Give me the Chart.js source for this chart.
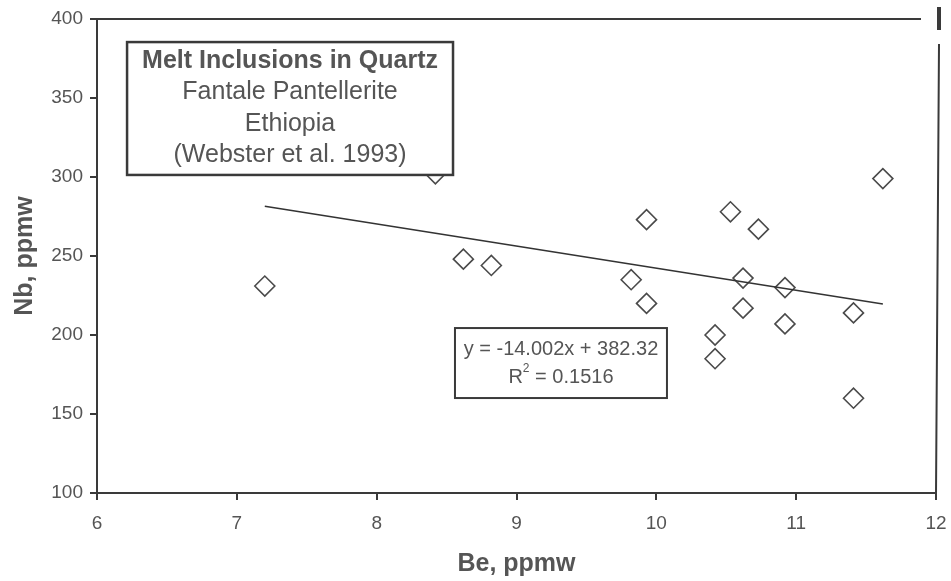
<!DOCTYPE html>
<html>
<head>
<meta charset="utf-8">
<script src="https://cdn.jsdelivr.net/npm/chart.js@4.4.0/dist/chart.umd.min.js"></script>
<style>
  html, body { margin: 0; padding: 0; background: #fff; }
  #wrap { width: 951px; height: 581px; }
</style>
</head>
<body>
<div id="wrap"><canvas id="myChart" width="951" height="581"></canvas></div>
<script>
// Datos (Be vs Nb, ppmw)
var beValues = [7.2, 8.42, 8.62, 8.82, 9.82, 9.93, 9.93, 10.42, 10.42, 10.53, 10.62, 10.62, 10.73, 10.92, 10.92, 11.41, 11.41, 11.62];
var nbValues = [231, 302, 248, 244, 235, 273, 220, 200, 185, 278, 236, 217, 267, 230, 207, 214, 160, 299];

// Línea de tendencia (extremos)
var trendX = [7.2, 11.62];
var trendY = [281.5, 219.6];

var xTicks = [6, 7, 8, 9, 10, 11, 12];
var yTicks = [100, 150, 200, 250, 300, 350, 400];

var titleLines = ['Melt Inclusions in Quartz', 'Fantale Pantellerite', 'Ethiopia', '(Webster et al. 1993)'];
var eqLines = ['y = -14.002x + 382.32', 'R2 = 0.1516'];

var FONT = "'Liberation Sans', Arial, sans-serif";
var TEXT = '#555';
var AXIS = '#3a3a3a';

var points = beValues.map(function(x, i) { return { x: x, y: nbValues[i] }; });
var trend = trendX.map(function(x, i) { return { x: x, y: trendY[i] }; });

// Recuadros de texto y marco del área de trazado
var boxesPlugin = {
  id: 'boxes',
  afterDraw: function(chart) {
    var ctx = chart.ctx;
    var xs = chart.scales.x, ys = chart.scales.y;
    var area = chart.chartArea;
    ctx.save();

    // marco superior y derecho
    ctx.strokeStyle = AXIS;
    ctx.lineWidth = 2;
    ctx.beginPath();
    ctx.moveTo(area.left, area.top);
    ctx.lineTo(area.right - 15, area.top);
    ctx.moveTo(area.right + 3, area.top + 25);
    ctx.lineTo(area.right, area.bottom);
    ctx.stroke();
    ctx.lineWidth = 4;
    ctx.beginPath();
    ctx.moveTo(area.right + 3, area.top - 12);
    ctx.lineTo(area.right + 3, area.top + 11);
    ctx.stroke();

    // recuadro del título
    var l = xs.getPixelForValue(6.215), r = xs.getPixelForValue(8.546);
    var t = ys.getPixelForValue(385.4), b = ys.getPixelForValue(301.3);
    ctx.fillStyle = '#fff';
    ctx.fillRect(l, t, r - l, b - t);
    ctx.lineWidth = 2.5;
    ctx.strokeRect(l, t, r - l, b - t);
    ctx.fillStyle = TEXT;
    ctx.textAlign = 'center';
    ctx.textBaseline = 'middle';
    var cx = (l + r) / 2;
    titleLines.forEach(function(line, i) {
      ctx.font = (i === 0 ? 'bold ' : '') + '25px ' + FONT;
      ctx.fillText(line, cx, t + 19 + i * 31.3);
    });

    // recuadro de la ecuación
    l = xs.getPixelForValue(8.56); r = xs.getPixelForValue(10.076);
    t = ys.getPixelForValue(204.4); b = ys.getPixelForValue(160.1);
    ctx.fillStyle = '#fff';
    ctx.fillRect(l, t, r - l, b - t);
    ctx.lineWidth = 2;
    ctx.strokeStyle = AXIS;
    ctx.strokeRect(l, t, r - l, b - t);
    ctx.fillStyle = TEXT;
    cx = (l + r) / 2;
    ctx.font = '20px ' + FONT;
    ctx.fillText(eqLines[0], cx, t + 21);
    // R² con superíndice
    var y2 = t + 49;
    var main1 = 'R', main2 = ' = 0.1516';
    ctx.font = '20px ' + FONT;
    var w1 = ctx.measureText(main1).width, w2 = ctx.measureText(main2).width;
    ctx.font = '12px ' + FONT;
    var ws = ctx.measureText('2').width;
    var x0 = cx - (w1 + ws + w2) / 2;
    ctx.textAlign = 'left';
    ctx.font = '20px ' + FONT;
    ctx.fillText(main1, x0, y2);
    ctx.font = '12px ' + FONT;
    ctx.fillText('2', x0 + w1, y2 - 8);
    ctx.font = '20px ' + FONT;
    ctx.fillText(main2, x0 + w1 + ws, y2);

    ctx.restore();
  }
};

var ctx2 = document.getElementById('myChart').getContext('2d');

var chart = new Chart(ctx2, {
  type: 'scatter',
  data: {
    datasets: [{
      label: 'Nb',
      data: points,
      pointStyle: 'rectRot',
      pointRadius: 10,
      pointBorderWidth: 1.6,
      pointBorderColor: '#4a4a4a',
      pointBackgroundColor: '#fff',
      showLine: false,
      order: 2
    }, {
      label: 'Tendencia',
      data: trend,
      showLine: true,
      pointRadius: 0,
      borderColor: '#333',
      borderWidth: 1.6,
      order: 1
    }]
  },
  options: {
    responsive: false,
    animation: false,
    layout: { padding: { top: 19, right: 15, left: 0, bottom: 0 } },
    plugins: {
      legend: { display: false },
      tooltip: { enabled: false }
    },
    scales: {
      x: {
        type: 'linear',
        min: 6,
        max: 12,
        afterFit: function(s) { s.height = 88; s.paddingRight = 0; s.paddingLeft = 0; },
        afterBuildTicks: function(s) { s.ticks = xTicks.map(function(v) { return { value: v }; }); },
        grid: { drawOnChartArea: false, drawTicks: true, tickLength: 7, color: AXIS, lineWidth: 2 },
        border: { display: true, color: AXIS, width: 2 },
        ticks: { color: TEXT, padding: 12, font: { family: FONT, size: 19 } },
        title: {
          display: true,
          text: 'Be, ppmw',
          color: TEXT,
          padding: { top: 0, bottom: 2 },
          font: { family: FONT, size: 25, weight: 'bold' }
        }
      },
      y: {
        type: 'linear',
        min: 100,
        max: 400,
        afterFit: function(s) { s.width = 97; },
        afterBuildTicks: function(s) { s.ticks = yTicks.map(function(v) { return { value: v }; }); },
        grid: { drawOnChartArea: false, drawTicks: true, tickLength: 7, color: AXIS, lineWidth: 2 },
        border: { display: true, color: AXIS, width: 2 },
        ticks: { color: TEXT, padding: 7, font: { family: FONT, size: 19 } },
        title: {
          display: true,
          text: 'Nb, ppmw',
          color: TEXT,
          padding: { top: 10, bottom: 0 },
          font: { family: FONT, size: 25, weight: 'bold' }
        }
      }
    }
  },
  plugins: [boxesPlugin]
});
</script>
</body>
</html>
